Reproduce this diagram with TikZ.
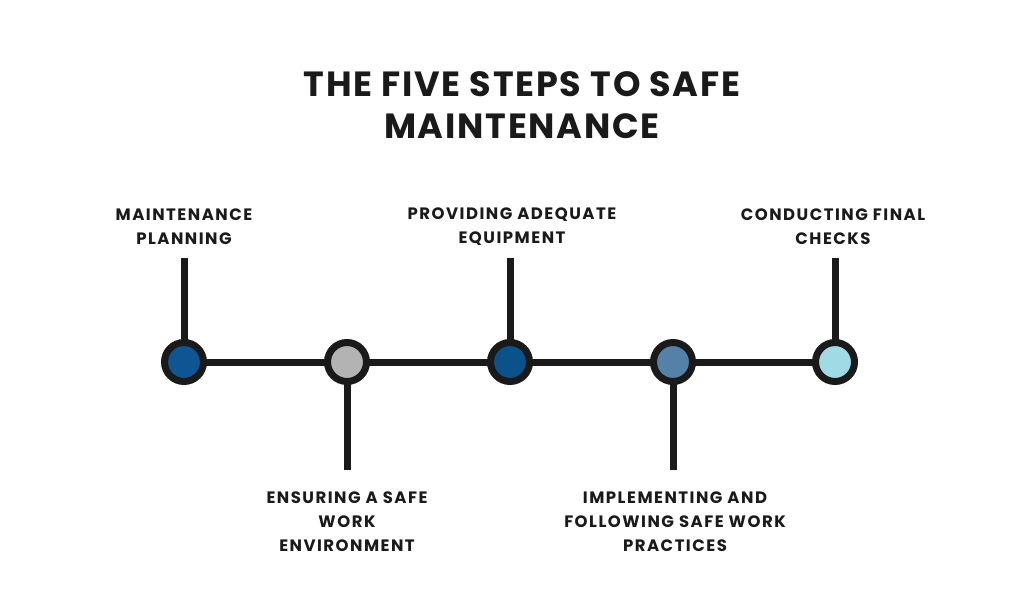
\documentclass[tikz,border=0pt]{standalone}
\usepackage{fontspec}
\newfontfamily\titlefont[LetterSpace=5]{Poppins}
\newfontfamily\labelfont[LetterSpace=9]{Poppins}
\usetikzlibrary{positioning}

\definecolor{linegray}{HTML}{1A1A1A}
\definecolor{stepblue}{HTML}{0F5593}
\definecolor{stepgray}{HTML}{B3B3B3}
\definecolor{stepnavy}{HTML}{0B528A}
\definecolor{stepsteel}{HTML}{5580A8}
\definecolor{stepsky}{HTML}{A0DBE5}

\begin{document}
\begin{tikzpicture}[x=1pt, y=-1pt,
    dot/.style={circle, draw=linegray, line width=7pt, minimum size=39pt, inner sep=0pt},
    stem/.style={draw=linegray, line width=7pt},
    steplabel/.style={align=center, text=linegray, font=\labelfont\bfseries\fontsize{16.5}{24}\selectfont}
]
    \useasboundingbox (0,0) rectangle (1024,597);

    % Title
    \node[align=center, text=linegray, font=\titlefont\bfseries\fontsize{35}{42}\selectfont] (title) at (522,105) {THE FIVE STEPS TO SAFE\\MAINTENANCE};

    % Timeline
    \coordinate (start) at (184,362);
    \coordinate (stop) at (835,362);
    \draw[stem] (start) -- (stop);

    % Stems
    \coordinate (t1) at (184,258);
    \coordinate (b2) at (347,470);
    \coordinate (t3) at (510,258);
    \coordinate (b4) at (673,470);
    \coordinate (t5) at (835,258);
    \draw[stem] (t1) -- (start);
    \draw[stem] (t3) -- (510,362);
    \draw[stem] (t5) -- (stop);
    \draw[stem] (b2) -- (347,362);
    \draw[stem] (b4) -- (673,362);

    % Steps
    \node[dot, fill=stepblue] (c1) at (184,362) {};
    \node[dot, fill=stepgray] (c2) at (347,362) {};
    \node[dot, fill=stepnavy] (c3) at (510,362) {};
    \node[dot, fill=stepsteel] (c4) at (673,362) {};
    \node[dot, fill=stepsky] (c5) at (835,362) {};

    % Labels
    \node[steplabel] (l1) at (184,227) {MAINTENANCE\\PLANNING};
    \node[steplabel] (l2) at (347,522) {ENSURING A SAFE\\WORK\\ENVIRONMENT};
    \node[steplabel] (l3) at (512,227) {PROVIDING ADEQUATE\\EQUIPMENT};
    \node[steplabel] (l4) at (675,522) {IMPLEMENTING AND\\FOLLOWING SAFE WORK\\PRACTICES};
    \node[steplabel] (l5) at (833,227) {CONDUCTING FINAL\\CHECKS};
\end{tikzpicture}
\end{document}
